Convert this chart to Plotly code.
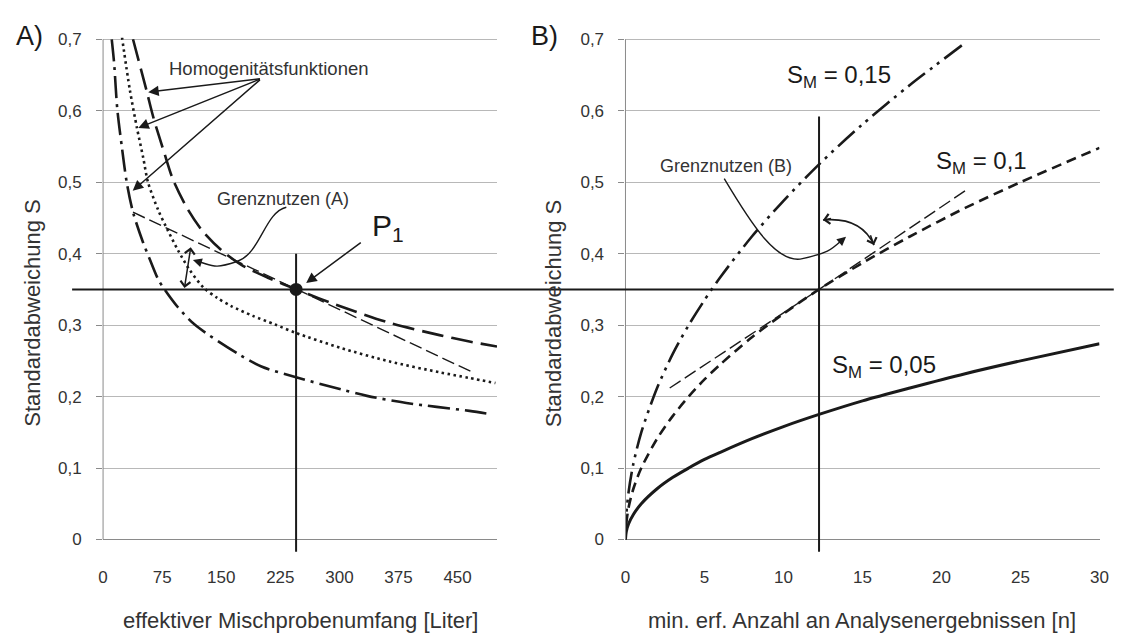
import plotly.graph_objects as go

# ---------------- data ----------------
# Panel A: homogeneity functions, x = effective composite sample size [litre], y = std. dev. S
hom_dashed_x = [38, 55, 64, 78, 89, 107, 126, 151, 176, 210, 245, 302, 364, 427, 465, 500]
hom_dashed_y = [0.700, 0.629, 0.590, 0.540, 0.503, 0.463, 0.432, 0.404, 0.384, 0.366, 0.350,
                0.326, 0.303, 0.286, 0.277, 0.270]
hom_dotted_x = [24, 34, 43, 51, 57, 70, 82, 95, 110, 128, 145, 162, 190, 218, 245, 302, 364, 427, 465, 498]
hom_dotted_y = [0.703, 0.629, 0.576, 0.534, 0.500, 0.461, 0.433, 0.405, 0.377, 0.352, 0.338,
                0.327, 0.313, 0.301, 0.289, 0.268, 0.249, 0.234, 0.226, 0.219]
hom_dashdot_x = [11, 14, 18, 24, 30, 38, 51, 59, 70, 78, 95, 117, 171, 201, 245, 302, 335, 385, 465, 489]
hom_dashdot_y = [0.700, 0.667, 0.603, 0.548, 0.500, 0.458, 0.415, 0.393, 0.364, 0.350, 0.325,
                 0.300, 0.260, 0.242, 0.227, 0.210, 0.201, 0.191, 0.180, 0.176]
tangent_a_x = [38, 245, 471]
tangent_a_y = [0.458, 0.350, 0.233]
p1_x = [245]
p1_y = [0.35]

# Panel B: x = min. required number of analysis results n
sm005_x = [0, 0.05, 0.2, 0.5, 1, 2, 3, 4, 5, 6, 8, 10, 12.25, 15, 18, 21.5, 25, 30]
sm005_y = [0, 0.011, 0.022, 0.035, 0.050, 0.071, 0.087, 0.100, 0.112, 0.122, 0.141, 0.158,
           0.175, 0.194, 0.212, 0.232, 0.250, 0.274]
sm010_x = [0, 0.05, 0.2, 0.5, 1, 2, 3, 4, 5, 6, 8, 10, 12.25, 15, 18, 21.5, 25, 30]
sm010_y = [0, 0.022, 0.045, 0.071, 0.100, 0.141, 0.173, 0.200, 0.224, 0.245, 0.283, 0.316,
           0.350, 0.387, 0.424, 0.464, 0.500, 0.548]
sm015_x = [0, 0.05, 0.2, 0.5, 1, 2, 3, 4, 5, 6, 8, 10, 12.25, 15, 18, 21.5]
sm015_y = [0, 0.034, 0.067, 0.106, 0.150, 0.212, 0.260, 0.300, 0.335, 0.367, 0.424, 0.474,
           0.525, 0.581, 0.636, 0.695]
tangent_b_x = [2.8, 12.25, 21.5]
tangent_b_y = [0.212, 0.350, 0.488]

s_ref = 0.35
v_a = 245
v_a_top = 0.40
n_b = 12.25
n_b_top = 0.592

xa_ticks = [0, 75, 150, 225, 300, 375, 450]
xb_ticks = [0, 5, 10, 15, 20, 25, 30]
y_ticks = [0, 0.1, 0.2, 0.3, 0.4, 0.5, 0.6, 0.7]

# ---------------- styling ----------------
FONT = "Liberation Sans, Arial, sans-serif"
INK = "#1a1a1a"
TXT = "#333333"
GRID = "#b8b8b8"
AXC = "#8a8a8a"
W, H = 1125, 635

fig = go.Figure()


def line(x, y, dash, width=2.6, axes=("x", "y")):
    fig.add_trace(go.Scatter(x=x, y=y, mode="lines", xaxis=axes[0], yaxis=axes[1],
                             line=dict(color=INK, width=width, dash=dash, shape="spline", smoothing=0.8),
                             hoverinfo="skip", showlegend=False))


line(hom_dashed_x, hom_dashed_y, "22px,8px")
line(hom_dotted_x, hom_dotted_y, "2.5px,3.5px")
line(hom_dashdot_x, hom_dashdot_y, "22px,6px,3px,6px")
fig.add_trace(go.Scatter(x=tangent_a_x, y=tangent_a_y, mode="lines",
                         line=dict(color=INK, width=1.4, dash="13px,5px"), hoverinfo="skip", showlegend=False))
fig.add_trace(go.Scatter(x=p1_x, y=p1_y, mode="markers", marker=dict(color=INK, size=13),
                         hoverinfo="skip", showlegend=False, cliponaxis=False))

line(sm005_x, sm005_y, "solid", width=3, axes=("x2", "y2"))
line(sm010_x, sm010_y, "10px,6px", axes=("x2", "y2"))
line(sm015_x, sm015_y, "22px,6px,3px,6px,3px,6px", axes=("x2", "y2"))
fig.add_trace(go.Scatter(x=tangent_b_x, y=tangent_b_y, mode="lines", xaxis="x2", yaxis="y2",
                         line=dict(color=INK, width=1.4, dash="13px,5px"), hoverinfo="skip", showlegend=False))

# ---------------- axes ----------------
ydom = [0.1318, 0.9524]
yrange = [-0.018, 0.702]
common_y = dict(range=yrange, domain=ydom, tickvals=y_ticks, showgrid=True, gridcolor=GRID, gridwidth=1,
                zeroline=True, zerolinecolor=AXC, zerolinewidth=1, showline=False,
                ticks="outside", ticklen=6, tickcolor=AXC, tickwidth=1,
                tickfont=dict(family=FONT, size=17, color=TXT), ticklabelstandoff=11, fixedrange=True)
common_x = dict(showgrid=False, zeroline=False, showline=False, ticks="",
                tickfont=dict(family=FONT, size=17, color=TXT), ticklabelstandoff=13, fixedrange=True)

fig.update_layout(
    width=W, height=H, margin=dict(l=0, r=0, t=0, b=0),
    paper_bgcolor="white", plot_bgcolor="white", separators=",.",
    showlegend=False, hovermode=False,
    xaxis=dict(domain=[0.08827, 0.44284], range=[0, 500], tickvals=xa_ticks, anchor="y", **common_x),
    yaxis=dict(anchor="x", **common_y),
    xaxis2=dict(domain=[0.55849, 0.98516], range=[0, 30], tickvals=xb_ticks, anchor="y2", **common_x),
    yaxis2=dict(anchor="x2", **common_y),
    font=dict(family=FONT, color=TXT),
)

# ---------------- shapes ----------------
shapes = [
    # y-axis lines
    dict(type="line", xref="x domain", yref="y", x0=0, x1=0, y0=0, y1=0.7, line=dict(color=AXC, width=1)),
    dict(type="line", xref="x2 domain", yref="y2", x0=0, x1=0, y0=0, y1=0.7, line=dict(color=AXC, width=1)),
    # horizontal reference line across both panels
    dict(type="line", xref="paper", yref="y", x0=0.0604, x1=0.998, y0=s_ref, y1=s_ref,
         line=dict(color=INK, width=2)),
    # vertical lines
    dict(type="line", xref="x", yref="y", x0=v_a, x1=v_a, y0=-0.017, y1=v_a_top, line=dict(color=INK, width=2)),
    dict(type="line", xref="x2", yref="y2", x0=n_b, x1=n_b, y0=-0.017, y1=n_b_top,
         line=dict(color=INK, width=2)),
    # Grenznutzen (A) connector
    dict(type="path", xref="x", yref="y", path="M 232.6,0.465 C 205,0.458 200,0.40 170,0.389 S 140,0.383 121,0.389",
         line=dict(color=INK, width=1.4)),
    # Grenznutzen (B) connector
    dict(type="path", xref="x2", yref="y2", path="M 6.25,0.505 C 8.0,0.44 9.6,0.385 11.2,0.393 S 13.0,0.405 13.6,0.417",
         line=dict(color=INK, width=1.4)),
    # curved double arrow (B)
    dict(type="path", xref="x2", yref="y2", path="M 12.5,0.447 Q 14.9,0.452 15.73,0.412",
         line=dict(color=INK, width=1.6)),
]
fig.update_layout(shapes=shapes)

# ---------------- annotations ----------------
ann = []


def txt(x, y, s, size, xref="x", yref="y", color=TXT, **kw):
    kw.setdefault("xanchor", "center")
    kw.setdefault("yanchor", "middle")
    ann.append(dict(x=x, y=y, xref=xref, yref=yref, text=s, showarrow=False,
                    font=dict(family=FONT, size=size, color=color), **kw))


def arrow(hx, hy, tx, ty, xr="x", yr="y", head=2, side="end", width=1.5, size=1.4):
    ann.append(dict(x=hx, y=hy, ax=tx, ay=ty, xref=xr, yref=yr, axref=xr, ayref=yr, text="",
                    showarrow=True, arrowhead=head, startarrowhead=head, arrowside=side,
                    arrowwidth=width, arrowsize=size, startarrowsize=size, arrowcolor=INK,
                    standoff=0, startstandoff=0))


# panel labels
txt(41 / W, 1 - 28 / H, "A)", 27, xref="paper", yref="paper", xanchor="right", color=INK)
txt(562 / W, 1 - 28 / H, "B)", 27, xref="paper", yref="paper", xanchor="right", color=INK)
# axis titles
txt(0.2656, 1 - 620 / H, "effektiver Mischprobenumfang [Liter]", 22, xref="paper", yref="paper")
txt(0.7718, 1 - 620 / H, "min. erf. Anzahl an Analysenergebnissen [n]", 22, xref="paper", yref="paper")
txt(27 / W, 1 - 309 / H, "Standardabweichung S", 22, xref="paper", yref="paper", textangle=-90)
txt(555 / W, 1 - 309 / H, "Standardabweichung S", 22, xref="paper", yref="paper", textangle=-90)

# panel A texts & arrows
txt(210, 0.659, "Homogenitätsfunktionen", 18.5)
txt(228, 0.477, "Grenznutzen (A)", 18)
txt(362, 0.436, "P<sub>1</sub>", 30, color=INK)
arrow(57.3, 0.626, 201, 0.645)
arrow(44.7, 0.576, 201, 0.645)
arrow(37.6, 0.488, 201, 0.645)
arrow(257.8, 0.359, 329, 0.417)
arrow(103.3, 0.352, 111.6, 0.411, head=4, side="end+start", size=1.3)
arrow(114, 0.391, 123, 0.388, head=2, size=1.2)

# panel B texts & arrows
txt(6.36, 0.523, "Grenznutzen (B)", 18, xref="x2", yref="y2")
txt(13.5, 0.648, "S<sub>M</sub> = 0,15", 24, xref="x2", yref="y2", color=INK)
txt(22.55, 0.528, "S<sub>M</sub> = 0,1", 24, xref="x2", yref="y2", color=INK)
txt(16.36, 0.242, "S<sub>M</sub> = 0,05", 24, xref="x2", yref="y2", color=INK)
arrow(13.96, 0.4237, 13.5, 0.415, xr="x2", yr="y2", head=2, size=1.2)
arrow(12.5, 0.447, 13.1, 0.4495, xr="x2", yr="y2", head=4, size=1.3)
arrow(15.73, 0.412, 15.47, 0.428, xr="x2", yr="y2", head=4, size=1.3)

fig.update_layout(annotations=ann)

fig.write_html("out.html", config={"staticPlot": True})
